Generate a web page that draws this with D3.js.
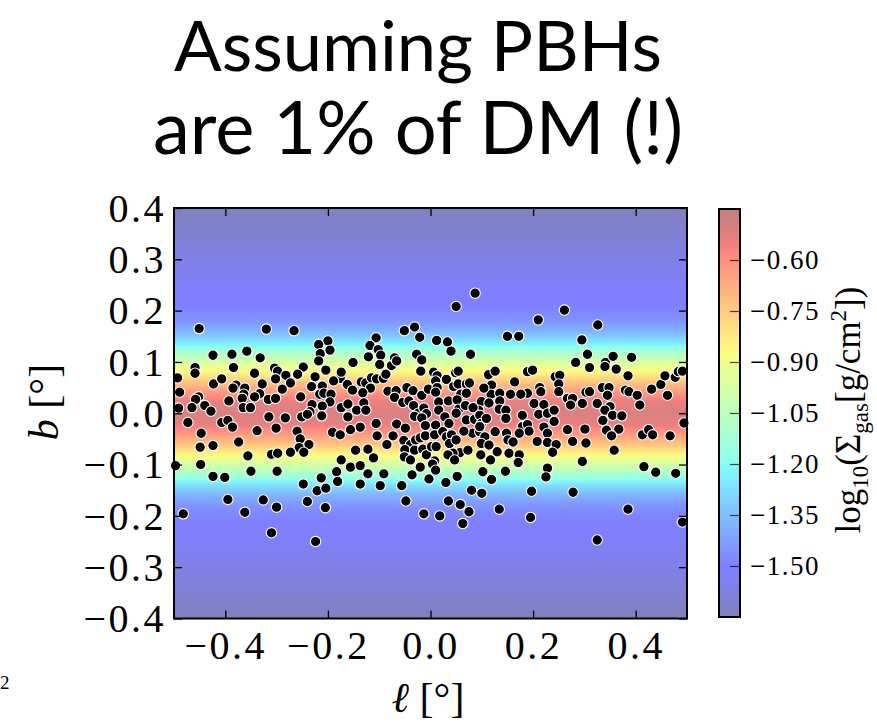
<!DOCTYPE html>
<html>
<head>
<meta charset="utf-8">
<script src="https://cdn.jsdelivr.net/npm/d3@7"></script>
<style>
  body { margin: 0; background: #fff; }
  svg { display: block; }
</style>
</head>
<body>
<svg id="chart" width="877" height="728"></svg>
<script>
// ---- text ----
const titleLines = ["Assuming PBHs", "are 1% of DM (!)"];

// ---- axis ticks ----
const xTicks = [-0.4, -0.2, 0.0, 0.2, 0.4];
const yTicks = [-0.4, -0.3, -0.2, -0.1, 0.0, 0.1, 0.2, 0.3, 0.4];
const cbTicks = [-0.60, -0.75, -0.90, -1.05, -1.20, -1.35, -1.50];
const cbDomain = [-1.65, -0.45];

// ---- gas surface density profile vs |b| (log10 g/cm^2) ----
const gasB        = [0.00, 0.02, 0.04, 0.06, 0.08, 0.10, 0.12, 0.14, 0.16, 0.18, 0.20, 0.24, 0.30, 0.36, 0.40];
const gasLogSigma = [-0.51, -0.53, -0.62, -0.73, -0.86, -0.98, -1.12, -1.27, -1.38, -1.45, -1.49, -1.52, -1.57, -1.62, -1.65];

// ---- PBH positions: galactic longitude l and latitude b (deg) ----
const pbhL = [
  -0.451,-0.320,-0.266,-0.051,-0.031,0.087,0.050,0.261,0.210,0.326,
  -0.395,-0.326,-0.300,-0.362,-0.482,-0.310,-0.240,-0.205,-0.224,-0.048,-0.013,0.018,0.063,0.075,0.058,0.035,0.134,0.195,0.325,0.385,0.491,
  -0.200,-0.218,-0.196,-0.358,-0.387,-0.424,-0.332,-0.215,-0.218,-0.459,
  -0.459,-0.384,-0.493,-0.423,-0.407,-0.343,-0.304,-0.298,-0.282,-0.248,
  -0.259,-0.273,-0.302,-0.328,-0.289,-0.379,-0.385,-0.362,-0.364,-0.367,
  -0.333,-0.343,-0.316,-0.302,-0.393,-0.452,-0.458,-0.489,-0.440,-0.428,
  -0.465,-0.491,-0.365,-0.351,-0.253,-0.225,-0.204,-0.176,-0.189,-0.232,
  -0.211,-0.216,-0.208,-0.194,-0.196,-0.211,-0.231,-0.235,-0.174,-0.473,
  -0.407,-0.395,-0.386,-0.447,-0.449,-0.424,-0.374,-0.338,-0.301,-0.315,
  -0.283,-0.251,-0.240,-0.212,-0.260,-0.254,-0.237,-0.256,-0.247,-0.273,
  -0.310,-0.298,-0.356,-0.448,-0.497,-0.424,-0.401,-0.350,-0.299,-0.248,
  -0.221,-0.204,-0.213,-0.183,-0.181,-0.191,-0.176,-0.174,
  -0.106,-0.118,-0.102,-0.097,-0.121,-0.021,-0.027,-0.017,-0.019,-0.076,
  -0.070,-0.066,-0.151,-0.099,-0.174,-0.135,-0.126,-0.115,-0.105,-0.092,
  -0.087,-0.117,-0.132,-0.130,-0.083,-0.067,-0.046,-0.034,-0.070,-0.054,
  -0.042,-0.033,-0.017,-0.024,-0.162,-0.152,-0.161,-0.144,-0.126,-0.013,
  -0.004,-0.008,
  -0.161,-0.137,-0.156,-0.106,-0.104,-0.146,-0.122,-0.111,-0.085,-0.073,
  -0.066,-0.049,-0.031,-0.017,-0.010,-0.052,-0.039,-0.029,-0.020,-0.010,
  -0.050,-0.051,-0.039,-0.031,-0.015,-0.008,-0.020,-0.156,-0.137,-0.122,
  -0.091,-0.036,-0.098,-0.137,-0.056,-0.003,
  0.012,0.033,0.040,0.078,0.150,0.172,0.006,0.013,0.031,0.049,
  0.054,0.010,0.013,0.010,0.045,0.054,0.070,0.076,0.059,0.070,
  0.016,0.035,0.052,0.113,0.126,0.119,0.118,0.135,0.099,0.114,
  0.135,0.164,0.156,0.104,0.055,0.068,0.094,0.134,0.016,0.028,
  0.050,0.083,0.147,
  0.010,0.008,0.002,0.011,0.008,0.004,0.010,0.030,0.036,0.070,
  0.086,0.096,0.099,0.109,0.024,0.031,0.041,0.037,0.050,0.057,
  0.044,0.034,0.047,0.073,0.082,0.096,0.096,0.106,0.099,0.098,
  0.117,0.126,0.114,0.102,0.119,0.080,0.100,0.148,0.151,0.161,
  0.130,0.153,0.147,0.065,0.052,0.146,
  0.295,0.306,0.283,0.310,0.341,0.340,0.356,0.392,0.362,0.385,
  0.189,0.199,0.243,0.252,0.250,0.250,0.189,0.176,0.213,0.215,
  0.202,0.221,0.179,0.211,0.228,0.241,0.267,0.277,0.273,0.296,
  0.303,0.310,0.325,0.335,0.348,0.345,0.350,0.340,0.355,0.373,
  0.380,0.387,0.403,0.408,0.431,0.449,0.457,0.462,0.477,0.483,
  0.491,
  0.241,0.179,0.189,0.192,0.173,0.221,0.228,0.208,0.228,0.245,
  0.238,0.267,0.277,0.301,0.303,0.336,0.367,0.343,0.353,0.358,
  0.296,0.413,0.425,0.433,0.467,0.494,0.173,0.171,0.228,0.225,
  0.416,0.439,0.478,0.197,0.278
];
const pbhB = [
  0.165,0.164,0.161,0.161,0.168,0.234,0.208,0.201,0.182,0.172,
  -0.168,-0.169,-0.183,-0.193,-0.196,-0.233,-0.172,-0.184,-0.250,-0.171,-0.196,-0.200,-0.215,-0.192,-0.178,-0.171,-0.187,-0.203,-0.247,-0.187,-0.212,
  0.141,0.134,0.123,0.121,0.115,0.113,0.108,0.116,0.102,0.089,
  0.078,0.089,0.069,0.057,0.067,0.078,0.088,0.082,0.074,0.090,
  0.076,0.059,0.067,0.057,0.047,0.055,0.049,0.049,0.037,0.029,
  0.038,0.032,0.027,0.029,0.024,0.032,0.027,0.041,0.015,0.004,
  0.011,0.010,0.011,0.011,0.032,0.071,0.084,0.068,0.063,0.052,
  0.053,0.037,0.039,0.037,0.022,0.014,0.017,0.003,0.011,-0.018,
  -0.018,-0.014,-0.027,-0.039,-0.066,-0.063,-0.056,-0.034,-0.029,-0.007,
  -0.009,-0.007,-0.002,-0.005,-0.035,-0.050,-0.061,-0.067,-0.076,-0.076,
  -0.080,-0.078,-0.083,-0.100,-0.102,-0.123,-0.125,-0.113,-0.113,-0.138,
  -0.151,-0.146,-0.126,-0.114,-0.133,-0.037,-0.042,-0.091,
  0.147,0.132,0.124,0.113,0.110,0.148,0.115,0.104,0.082,0.093,
  0.108,0.102,0.099,0.095,0.080,0.061,0.059,0.069,0.067,0.068,
  0.076,0.049,0.040,0.020,0.043,0.044,0.050,0.044,0.031,0.021,
  0.024,0.015,0.035,0.000,0.056,0.045,0.018,0.006,0.006,0.010,
  0.047,-0.001,
  -0.007,-0.027,-0.032,-0.020,-0.044,-0.072,-0.070,-0.087,-0.061,-0.044,
  -0.021,-0.029,-0.006,-0.009,-0.024,-0.053,-0.061,-0.052,-0.048,-0.044,
  -0.071,-0.085,-0.091,-0.072,-0.070,-0.081,-0.105,-0.105,-0.102,-0.118,
  -0.118,-0.120,-0.141,-0.138,-0.141,-0.128,
  0.142,0.139,0.121,0.115,0.150,0.150,0.080,0.073,0.066,0.079,
  0.082,0.063,0.050,0.041,0.052,0.057,0.057,0.059,0.037,0.039,
  0.022,0.024,0.026,0.075,0.082,0.055,0.037,0.039,0.023,0.020,
  0.024,0.061,0.037,0.049,0.008,0.015,0.006,0.008,0.006,-0.007,
  0.000,0.011,0.006,
  -0.023,-0.042,-0.065,-0.065,-0.093,-0.099,-0.111,-0.135,-0.020,-0.013,
  -0.012,-0.004,-0.020,-0.010,-0.036,-0.046,-0.042,-0.059,-0.052,-0.077,
  -0.078,-0.081,-0.091,-0.072,-0.039,-0.036,-0.026,-0.046,-0.059,-0.081,
  -0.091,-0.036,-0.062,-0.114,-0.129,-0.150,-0.156,-0.039,-0.052,-0.056,
  -0.075,-0.078,-0.010,-0.035,-0.123,-0.113,
  0.143,0.115,0.099,0.089,0.099,0.091,0.111,0.109,0.086,0.073,
  0.081,0.084,0.071,0.074,0.057,0.042,0.039,0.037,0.050,0.042,
  0.019,0.017,-0.004,-0.002,0.000,0.006,0.029,0.029,0.016,0.019,
  0.041,0.042,0.019,0.050,0.050,0.035,0.013,0.006,-0.004,-0.005,
  0.045,0.042,0.035,0.016,0.047,0.056,0.073,0.035,0.070,0.081,
  0.082,
  -0.016,-0.026,-0.022,-0.035,-0.039,-0.027,-0.039,-0.055,-0.057,-0.061,
  -0.076,-0.032,-0.055,-0.031,-0.058,-0.014,-0.031,-0.033,-0.044,-0.072,
  -0.094,-0.042,-0.032,-0.042,-0.044,-0.019,-0.081,-0.096,-0.107,-0.124,
  -0.104,-0.115,-0.117,-0.152,-0.154
];

// ---- geometry ----
const plot = { left: 174, right: 687, top: 208, bottom: 618.5 };
const cbar = { left: 719, right: 740, top: 209, bottom: 617 };

const svg = d3.select("#chart");
const x = d3.scaleLinear().domain([-0.5, 0.5]).range([plot.left, plot.right]);
const y = d3.scaleLinear().domain([-0.4, 0.4]).range([plot.bottom, plot.top]);
const cScale = d3.scaleLinear().domain(cbDomain).range([cbar.bottom, cbar.top]);

// matplotlib "jet" segment data
const jetSeg = {
  r: [[0, 0], [0.35, 0], [0.66, 1], [0.89, 1], [1, 0.5]],
  g: [[0, 0], [0.125, 0], [0.375, 1], [0.64, 1], [0.91, 0], [1, 0]],
  b: [[0, 0.5], [0.11, 1], [0.34, 1], [0.65, 0], [1, 0]]
};
function seg(t, pts) {
  t = Math.max(0, Math.min(1, t));
  for (let i = 1; i < pts.length; i++) {
    if (t <= pts[i][0]) {
      const [t0, v0] = pts[i - 1], [t1, v1] = pts[i];
      return v0 + (v1 - v0) * (t - t0) / (t1 - t0);
    }
  }
  return pts[pts.length - 1][1];
}
const ALPHA = 0.5;
function jetAlpha(t) {
  const c = ["r", "g", "b"].map(k => Math.round(255 * (ALPHA * seg(t, jetSeg[k]) + (1 - ALPHA))));
  return d3.rgb(c[0], c[1], c[2]).formatHex();
}
const norm = d3.scaleLinear().domain(cbDomain).range([0, 1]);
const gasAt = d3.scaleLinear().domain(gasB).range(gasLogSigma).clamp(true);

const defs = svg.append("defs");

// gas map gradient along b
const bg = defs.append("linearGradient").attr("id", "gasGrad")
  .attr("x1", 0).attr("y1", 0).attr("x2", 0).attr("y2", 1);
d3.range(0, 161).forEach(i => {
  const f = i / 160;
  const b = 0.4 - 0.8 * f;
  bg.append("stop").attr("offset", f).attr("stop-color", jetAlpha(norm(gasAt(Math.abs(b)))));
});

// colorbar gradient
const cg = defs.append("linearGradient").attr("id", "cbGrad")
  .attr("x1", 0).attr("y1", 1).attr("x2", 0).attr("y2", 0);
d3.range(0, 101).forEach(i => {
  cg.append("stop").attr("offset", i / 100).attr("stop-color", jetAlpha(i / 100));
});

// ---- title: one text block, each line sized to its width ----
const titleText = svg.append("text").attr("font-family", "Lato, 'Open Sans', sans-serif")
  .attr("fill", "#000").attr("text-anchor", "middle");
const titleY = [67, 150], titleW = [488, 530];
const spans = titleLines.map((t, i) => {
  const sp = titleText.append("tspan").attr("x", 418).attr("y", titleY[i]).attr("font-size", 70).text(t);
  const w = sp.node().getComputedTextLength();
  sp.attr("font-size", (70 * titleW[i] / w).toFixed(2));
  return sp;
});
const tTop = titleText.node().getBBox().y;
if (tTop < 1) spans.forEach((sp, i) => sp.attr("y", titleY[i] + (1 - tTop)));

// ---- plot background ----
svg.append("rect").attr("x", plot.left).attr("y", plot.top)
  .attr("width", plot.right - plot.left).attr("height", plot.bottom - plot.top)
  .attr("fill", "url(#gasGrad)");

// ---- points ----
svg.append("g").selectAll("circle")
  .data(pbhL.map((l, i) => [l, pbhB[i]]))
  .join("circle")
  .attr("cx", d => x(d[0])).attr("cy", d => y(d[1]))
  .attr("r", 5.2).attr("fill", "#000").attr("stroke", "#fff").attr("stroke-width", 1.1);

// ---- axes (ticks point inward on all four sides) ----
const serif = "'Liberation Serif', 'DejaVu Serif', serif";
const fmt1 = d3.format(".1f");
const TL = 8;
const axB = d3.axisBottom(x).tickValues(xTicks).tickSize(TL).tickFormat(fmt1);
const axT = d3.axisTop(x).tickValues(xTicks).tickSize(TL).tickFormat("");
const axL = d3.axisLeft(y).tickValues(yTicks).tickSize(TL).tickFormat(fmt1);
const axR = d3.axisRight(y).tickValues(yTicks).tickSize(TL).tickFormat("");

function styleAxis(g) {
  g.select(".domain").remove();
  g.selectAll(".tick line").attr("stroke", "#000").attr("stroke-width", 1.3);
  g.selectAll("text").attr("font-family", serif).attr("font-size", 40).attr("fill", "#000")
    .attr("letter-spacing", 2.5);
}
const gB = svg.append("g").attr("transform", `translate(0,${plot.bottom})`).call(axB).call(styleAxis);
gB.selectAll(".tick line").attr("y2", -TL);
gB.selectAll(".tick text").attr("y", 40).attr("dy", 0);
const gT = svg.append("g").attr("transform", `translate(0,${plot.top})`).call(axT).call(styleAxis);
gT.selectAll(".tick line").attr("y2", TL);
const gL = svg.append("g").attr("transform", `translate(${plot.left},0)`).call(axL).call(styleAxis);
gL.selectAll(".tick line").attr("x2", TL);
gL.selectAll(".tick text").attr("x", -8).attr("dy", "0.33em");
const gR = svg.append("g").attr("transform", `translate(${plot.right},0)`).call(axR).call(styleAxis);
gR.selectAll(".tick line").attr("x2", -TL);

// frame
svg.append("rect").attr("x", plot.left).attr("y", plot.top)
  .attr("width", plot.right - plot.left).attr("height", plot.bottom - plot.top)
  .attr("fill", "none").attr("stroke", "#000").attr("stroke-width", 2);

// axis titles
const xl = svg.append("text").attr("x", 428).attr("y", 712)
  .attr("font-family", serif).attr("font-size", 42).attr("text-anchor", "middle");
xl.append("tspan").attr("font-style", "italic").text("ℓ");
xl.append("tspan").text(" [°]");

const yl = svg.append("text").attr("transform", "translate(58,402) rotate(-90)")
  .attr("font-family", serif).attr("font-size", 42).attr("text-anchor", "middle");
yl.append("tspan").attr("font-style", "italic").text("b");
yl.append("tspan").text(" [°]");

// ---- colorbar ----
svg.append("rect").attr("x", cbar.left).attr("y", cbar.top)
  .attr("width", cbar.right - cbar.left).attr("height", cbar.bottom - cbar.top)
  .attr("fill", "url(#cbGrad)");
const axC = d3.axisRight(cScale).tickValues(cbTicks).tickSize(10).tickFormat(d3.format(".2f"));
const gC = svg.append("g").attr("transform", `translate(${cbar.right},0)`).call(axC);
gC.select(".domain").remove();
gC.selectAll(".tick line").attr("x2", -10).attr("stroke", "#000").attr("stroke-width", 1.2).attr("stroke-opacity", 0.7);
gC.selectAll(".tick text").attr("x", 10).attr("dy", "0.33em")
  .attr("font-family", serif).attr("font-size", 27).attr("fill", "#000").attr("letter-spacing", 1.5);
svg.append("rect").attr("x", cbar.left).attr("y", cbar.top)
  .attr("width", cbar.right - cbar.left).attr("height", cbar.bottom - cbar.top)
  .attr("fill", "none").attr("stroke", "#000").attr("stroke-width", 2);

// colorbar label: log10(Σ_gas [g/cm^2])
const cl = svg.append("text").attr("transform", "translate(860,410) rotate(-90)")
  .attr("font-family", serif).attr("font-size", 35).attr("text-anchor", "middle");
cl.append("tspan").text("log");
cl.append("tspan").attr("font-size", 23).attr("dy", 8).text("10");
cl.append("tspan").attr("dy", -8).text("(Σ");
cl.append("tspan").attr("font-size", 23).attr("dy", 8).text("gas");
cl.append("tspan").attr("dy", -8).text("[g/cm");
cl.append("tspan").attr("font-size", 23).attr("dy", -14).text("2");
cl.append("tspan").attr("dy", 14).text("])");

// page number fragment at lower left
svg.append("text").attr("x", 0).attr("y", 689).attr("font-family", serif)
  .attr("font-size", 19).text("2");
</script>
</body>
</html>
